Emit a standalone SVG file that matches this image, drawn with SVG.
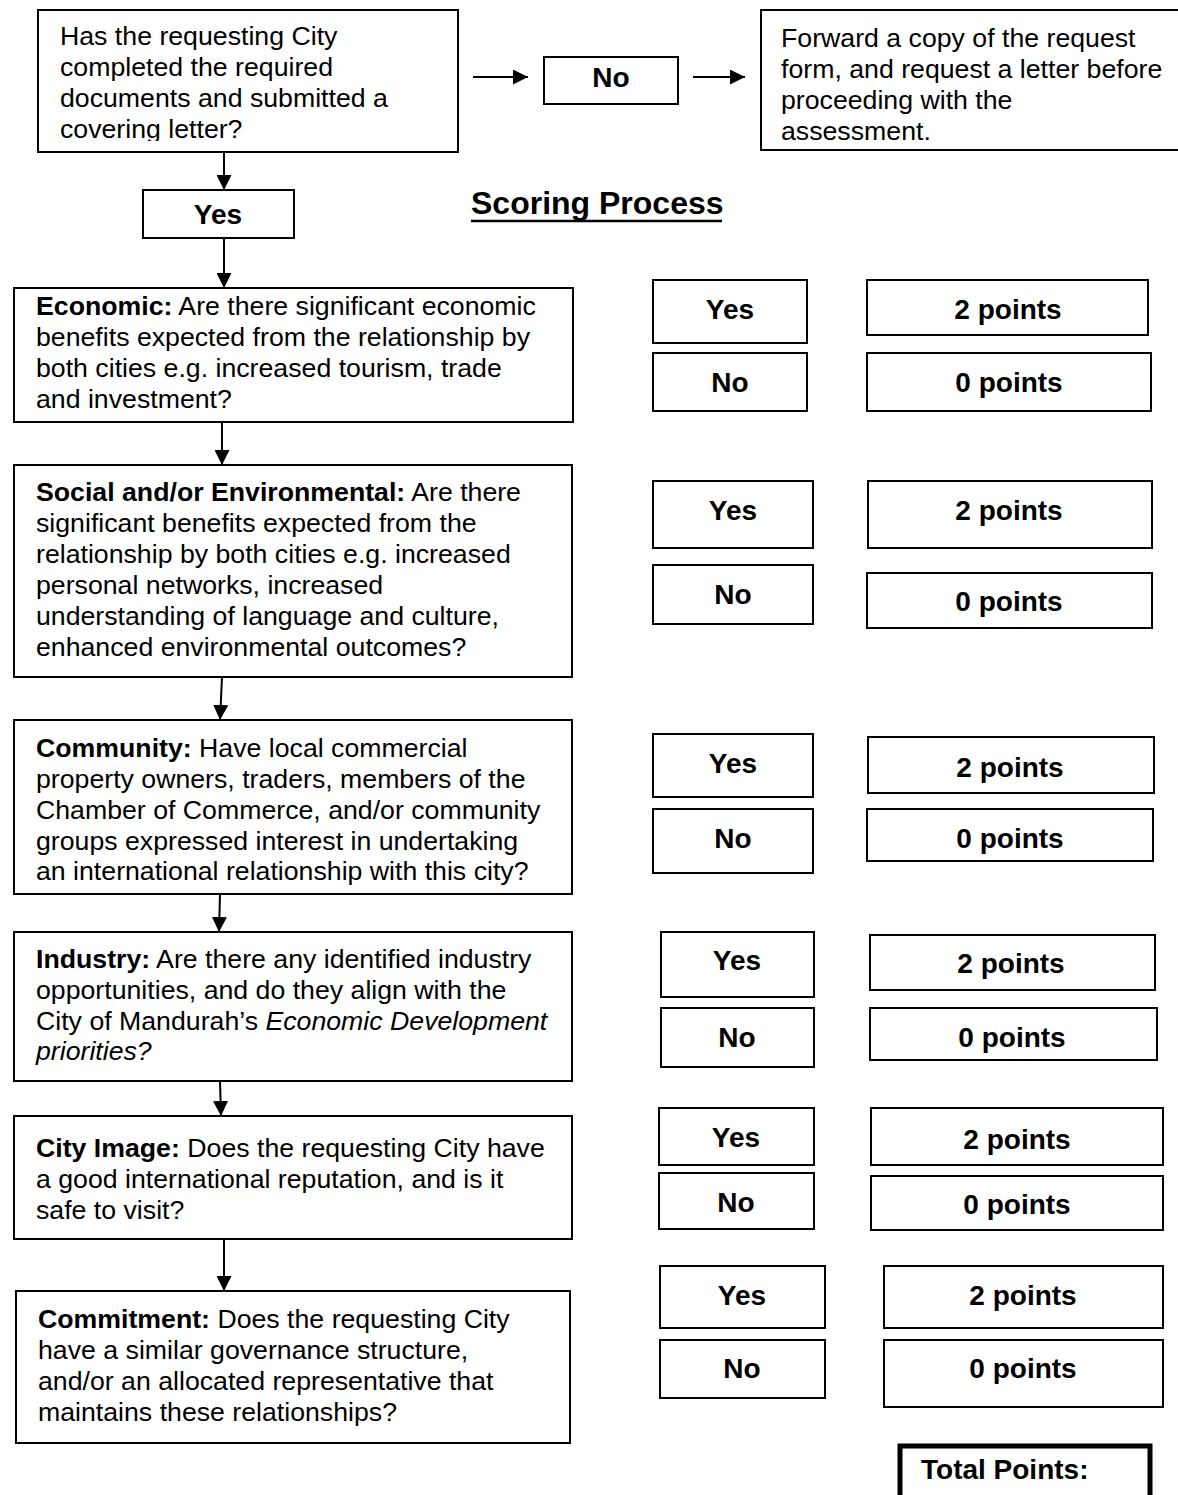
<svg xmlns="http://www.w3.org/2000/svg" width="1178" height="1495" viewBox="0 0 1178 1495">
<style>
.box{fill:#fff;stroke:#000;stroke-width:2}
.t{font-family:"Liberation Sans",Arial,sans-serif;font-size:26.7px;fill:#000}
.b{font-weight:bold}
.lbl{font-family:"Liberation Sans",Arial,sans-serif;font-size:28px;font-weight:bold;fill:#000;text-anchor:middle}
.c{stroke:#000;stroke-width:2;fill:none;marker-end:url(#ah)}
</style>
<defs>
<marker id="ah" markerUnits="userSpaceOnUse" markerWidth="15" markerHeight="15" viewBox="0 0 15 15" refX="15" refY="7.5" orient="auto">
<path d="M0,0 L15,7.5 L0,15 z" fill="#000"/>
</marker>
<clipPath id="clipTop"><rect x="38" y="10" width="420" height="131"/></clipPath>
</defs>
<rect width="1178" height="1495" fill="#fff"/>

<g id="connectors">
<line class="c" x1="473" y1="77" x2="528" y2="77"/>
<line class="c" x1="693" y1="77" x2="745" y2="77"/>
<line class="c" x1="224" y1="152" x2="224" y2="190"/>
<line class="c" x1="224" y1="238" x2="224" y2="288"/>
<line class="c" x1="222" y1="422" x2="222" y2="465"/>
<line class="c" x1="222" y1="677" x2="220" y2="720"/>
<line class="c" x1="220" y1="894" x2="219" y2="932"/>
<line class="c" x1="220" y1="1081" x2="221" y2="1116"/>
<line class="c" x1="224" y1="1239" x2="224" y2="1291"/>
</g>

<g id="start">
<rect class="box" x="38" y="10" width="420" height="142"/>
<text class="t" clip-path="url(#clipTop)"><tspan x="60" y="45">Has the requesting City</tspan><tspan x="60" y="76">completed the required</tspan><tspan x="60" y="107">documents and submitted a</tspan><tspan x="60" y="138">covering letter?</tspan></text>
</g>

<g id="no-top">
<rect class="box" x="544" y="57" width="134" height="47"/>
<text class="lbl" x="611" y="87">No</text>
</g>

<g id="forward">
<rect class="box" x="761" y="10" width="420" height="140"/>
<text class="t"><tspan x="781" y="47">Forward a copy of the request</tspan><tspan x="781" y="78">form, and request a letter before</tspan><tspan x="781" y="109">proceeding with the</tspan><tspan x="781" y="140">assessment.</tspan></text>
</g>

<g id="yes-top">
<rect class="box" x="143" y="190" width="151" height="48"/>
<text class="lbl" x="218" y="224">Yes</text>
</g>

<g id="title">
<text x="471" y="214" font-family="Liberation Sans, Arial, sans-serif" font-size="32px" font-weight="bold" fill="#000">Scoring Process</text>
<line x1="471" y1="221" x2="722" y2="221" stroke="#000" stroke-width="2.5"/>
</g>

<g id="economic">
<rect class="box" x="14" y="288" width="559" height="134"/>
<text class="t"><tspan x="36" y="315"><tspan class="b">Economic:</tspan> Are there significant economic</tspan><tspan x="36" y="346">benefits expected from the relationship by</tspan><tspan x="36" y="377">both cities e.g. increased tourism, trade</tspan><tspan x="36" y="408">and investment?</tspan></text>
</g>
<g id="economic-yes"><rect class="box" x="653" y="280" width="154" height="63"/><text class="lbl" x="730" y="319">Yes</text></g>
<g id="economic-2"><rect class="box" x="867" y="280" width="281" height="55"/><text class="lbl" x="1008" y="319">2 points</text></g>
<g id="economic-no"><rect class="box" x="653" y="353" width="154" height="58"/><text class="lbl" x="730" y="392">No</text></g>
<g id="economic-0"><rect class="box" x="867" y="353" width="284" height="58"/><text class="lbl" x="1009" y="392">0 points</text></g>

<g id="social">
<rect class="box" x="14" y="465" width="558" height="212"/>
<text class="t"><tspan x="36" y="501"><tspan class="b">Social and/or Environmental:</tspan> Are there</tspan><tspan x="36" y="532">significant benefits expected from the</tspan><tspan x="36" y="563">relationship by both cities e.g. increased</tspan><tspan x="36" y="594">personal networks, increased</tspan><tspan x="36" y="625">understanding of language and culture,</tspan><tspan x="36" y="656">enhanced environmental outcomes?</tspan></text>
</g>
<g id="social-yes"><rect class="box" x="653" y="481" width="160" height="67"/><text class="lbl" x="733" y="520">Yes</text></g>
<g id="social-2"><rect class="box" x="868" y="481" width="284" height="67"/><text class="lbl" x="1009" y="520">2 points</text></g>
<g id="social-no"><rect class="box" x="653" y="565" width="160" height="59"/><text class="lbl" x="733" y="604">No</text></g>
<g id="social-0"><rect class="box" x="867" y="573" width="285" height="55"/><text class="lbl" x="1009" y="611">0 points</text></g>

<g id="community">
<rect class="box" x="14" y="720" width="558" height="174"/>
<text class="t"><tspan x="36" y="757"><tspan class="b">Community:</tspan> Have local commercial</tspan><tspan x="36" y="788">property owners, traders, members of the</tspan><tspan x="36" y="819">Chamber of Commerce, and/or community</tspan><tspan x="36" y="850">groups expressed interest in undertaking</tspan><tspan x="36" y="880">an international relationship with this city?</tspan></text>
</g>
<g id="community-yes"><rect class="box" x="653" y="734" width="160" height="63"/><text class="lbl" x="733" y="773">Yes</text></g>
<g id="community-2"><rect class="box" x="868" y="737" width="286" height="56"/><text class="lbl" x="1010" y="777">2 points</text></g>
<g id="community-no"><rect class="box" x="653" y="809" width="160" height="64"/><text class="lbl" x="733" y="848">No</text></g>
<g id="community-0"><rect class="box" x="867" y="809" width="286" height="52"/><text class="lbl" x="1010" y="848">0 points</text></g>

<g id="industry">
<rect class="box" x="14" y="932" width="558" height="149"/>
<text class="t"><tspan x="36" y="968"><tspan class="b">Industry:</tspan> Are there any identified industry</tspan><tspan x="36" y="999">opportunities, and do they align with the</tspan><tspan x="36" y="1030">City of Mandurah’s <tspan font-style="italic">Economic Development</tspan></tspan><tspan x="36" y="1060" font-style="italic">priorities?</tspan></text>
</g>
<g id="industry-yes"><rect class="box" x="661" y="932" width="153" height="65"/><text class="lbl" x="737" y="970">Yes</text></g>
<g id="industry-2"><rect class="box" x="870" y="935" width="285" height="55"/><text class="lbl" x="1011" y="973">2 points</text></g>
<g id="industry-no"><rect class="box" x="661" y="1008" width="153" height="59"/><text class="lbl" x="737" y="1047">No</text></g>
<g id="industry-0"><rect class="box" x="870" y="1008" width="287" height="52"/><text class="lbl" x="1012" y="1047">0 points</text></g>

<g id="city-image">
<rect class="box" x="14" y="1116" width="558" height="123"/>
<text class="t"><tspan x="36" y="1157"><tspan class="b">City Image:</tspan> Does the requesting City have</tspan><tspan x="36" y="1188">a good international reputation, and is it</tspan><tspan x="36" y="1219">safe to visit?</tspan></text>
</g>
<g id="city-yes"><rect class="box" x="659" y="1108" width="155" height="57"/><text class="lbl" x="736" y="1147">Yes</text></g>
<g id="city-2"><rect class="box" x="871" y="1108" width="292" height="57"/><text class="lbl" x="1017" y="1149">2 points</text></g>
<g id="city-no"><rect class="box" x="659" y="1173" width="155" height="56"/><text class="lbl" x="736" y="1212">No</text></g>
<g id="city-0"><rect class="box" x="871" y="1176" width="292" height="54"/><text class="lbl" x="1017" y="1214">0 points</text></g>

<g id="commitment">
<rect class="box" x="16" y="1291" width="554" height="152"/>
<text class="t"><tspan x="38" y="1328"><tspan class="b">Commitment:</tspan> Does the requesting City</tspan><tspan x="38" y="1359">have a similar governance structure,</tspan><tspan x="38" y="1390">and/or an allocated representative that</tspan><tspan x="38" y="1421">maintains these relationships?</tspan></text>
</g>
<g id="commit-yes"><rect class="box" x="660" y="1266" width="165" height="62"/><text class="lbl" x="742" y="1305">Yes</text></g>
<g id="commit-2"><rect class="box" x="884" y="1266" width="279" height="62"/><text class="lbl" x="1023" y="1305">2 points</text></g>
<g id="commit-no"><rect class="box" x="660" y="1340" width="165" height="58"/><text class="lbl" x="742" y="1378">No</text></g>
<g id="commit-0"><rect class="box" x="884" y="1340" width="279" height="67"/><text class="lbl" x="1023" y="1378">0 points</text></g>

<g id="total">
<rect x="900" y="1446" width="250" height="60" fill="#fff" stroke="#000" stroke-width="5"/>
<text x="921" y="1479" font-family="Liberation Sans, Arial, sans-serif" font-size="28px" font-weight="bold" fill="#000">Total Points:</text>
</g>
</svg>
